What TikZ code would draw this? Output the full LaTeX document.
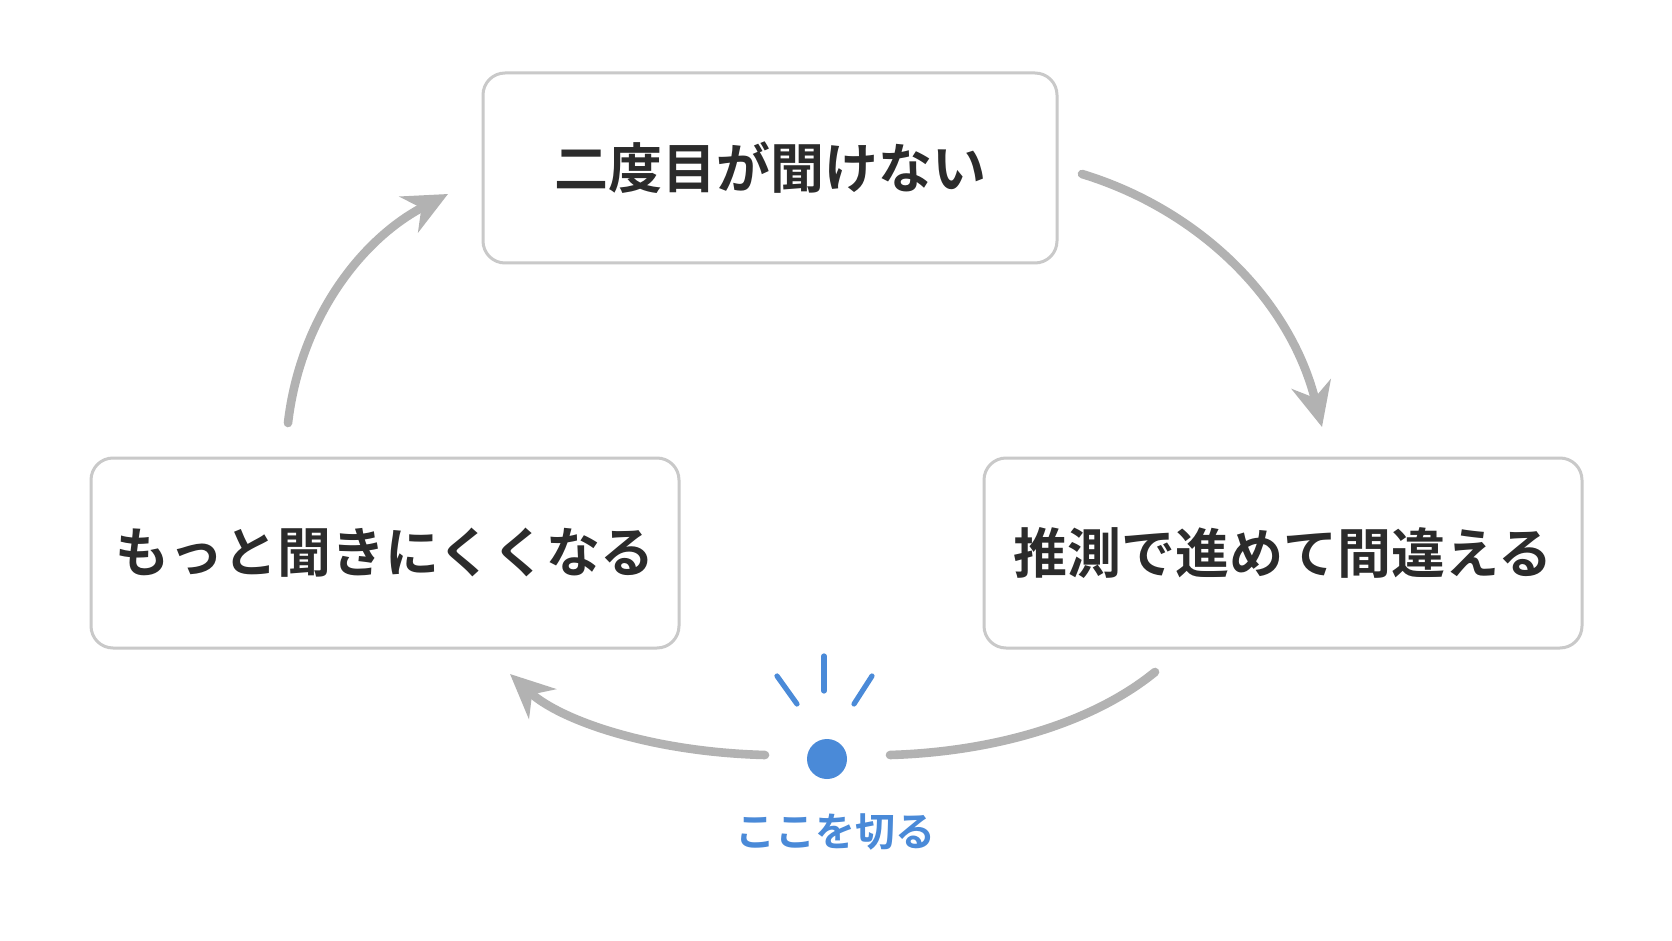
\documentclass[tikz,border=0pt]{standalone}
\usepackage{fontspec}
\newfontfamily\cjk{Noto Sans CJK JP}[BoldFont={Noto Sans CJK JP Bold}]
\usetikzlibrary{arrows.meta, positioning}
\definecolor{loopGray}{HTML}{B2B2B2}
\definecolor{boxGray}{HTML}{C9C9C9}
\definecolor{textDark}{HTML}{2B2B2B}
\definecolor{cutBlue}{HTML}{4A8AD8}
\tikzset{
  stage/.style={draw=boxGray, line width=1.5pt, rounded corners=11pt, fill=white,
    minimum width=287pt, minimum height=95pt, font=\cjk\bfseries\fontsize{27}{30}\selectfont, text=textDark},
  cycleArrow/.style={draw=loopGray, line width=4.3pt, line cap=round,
    -{Stealth[length=22pt, width=20pt, inset=7pt]}},
  ray/.style={draw=cutBlue, line width=2.6pt, line cap=round}
}
\begin{document}
\begin{tikzpicture}[x=0.5pt, y=-0.5pt]
        \useasboundingbox[fill=white] (0,0) rectangle (1672,941);
        % Boxes
        \node[stage] (ask) at (770,168) {二度目が聞けない};
        \node[stage, minimum width=299pt] (guess) at (1283,553) {推測で進めて間違える};
        \node[stage, minimum width=294pt] (harder) at (385,553) {もっと聞きにくくなる};

        % Arrow ends
        \coordinate (a1) at (1082,174);
        \coordinate (a2) at (1322,427);
        \coordinate (b1) at (1155,672);
        \coordinate (b2) at (890,755);
        \coordinate (c1) at (765,755);
        \coordinate (c2) at (510,674);
        \coordinate (d1) at (288,423);
        \coordinate (d2) at (448,194);

        % Loop
        \draw[cycleArrow] (a1) .. controls (1200,210) and (1290,300) .. (a2);
        \draw[cycleArrow, -] (b1) .. controls (1090,725) and (990,752) .. (b2);
        \draw[cycleArrow] (c1) .. controls (650,752) and (560,720) .. (c2);
        \draw[cycleArrow] (d1) .. controls (300,320) and (360,240) .. (d2);

        % Cut point
        \node[circle, fill=cutBlue, minimum size=20pt, inner sep=0pt] (cut) at (827,759) {};
        \draw[ray] (824,656) -- (824,691);
        \draw[ray] (777,676) -- (797,704);
        \draw[ray] (872,676) -- (854,704);
        \node[text=cutBlue, font=\cjk\bfseries\fontsize{20}{24}\selectfont] (cutlabel) at (835,832) {ここを切る};
\end{tikzpicture}
\end{document}
